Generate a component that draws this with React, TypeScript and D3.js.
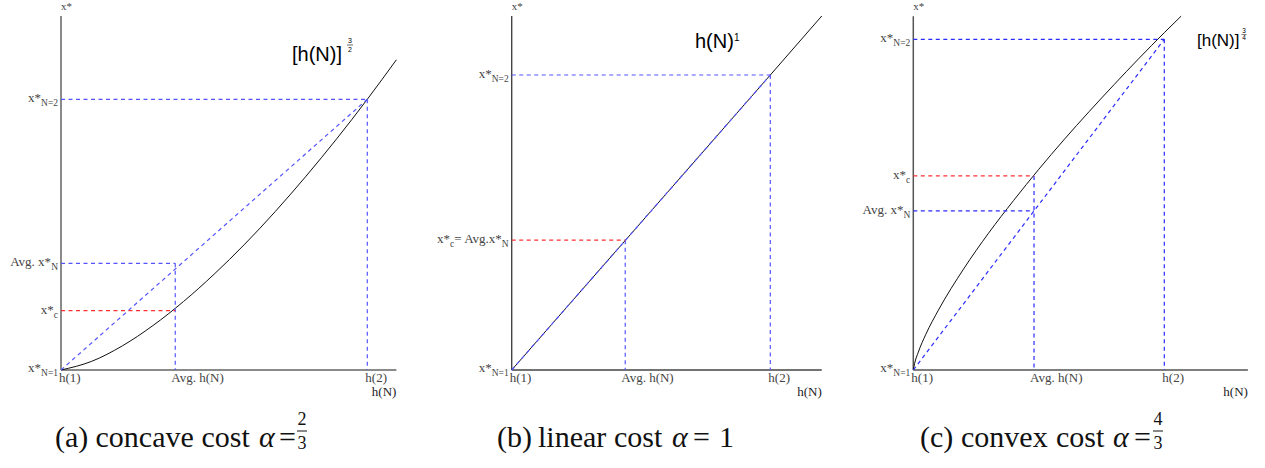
import React from "react";
import * as d3 from "d3";

// curve samples, x = h(N) (h(1)=0, h(2)=1), y = x* (x*N=1 = 0, x*N=2 = 1)
const concaveCurve: [number, number][] = [
  [0, 0], [0.1, 0.032], [0.2, 0.089], [0.3, 0.164], [0.4, 0.253], [0.5, 0.354],
  [0.6, 0.465], [0.7, 0.586], [0.8, 0.716], [0.9, 0.854], [1, 1], [1.095, 1.146],
];
const linearCurve: [number, number][] = [[0, 0], [0.5, 0.5], [1, 1], [1.199, 1.2]];
const convexCurve: [number, number][] = [
  [0, 0], [0.005, 0.019], [0.02, 0.054], [0.05, 0.108], [0.1, 0.181], [0.2, 0.305],
  [0.3, 0.414], [0.4, 0.513], [0.5, 0.607], [0.6, 0.696], [0.7, 0.781], [0.8, 0.863],
  [0.9, 0.943], [1, 1.02], [1.067, 1.07],
];

const avgH = [0.373, 0.439, 0.481];
const xStarC = [0.219, 0.44, 0.587];
const avgXStar = [0.394, 0.44, 0.481];
const xTickLabels = ["h(1)", "Avg. h(N)", "h(2)"];
const captionWords = [
  ["(a)", "concave", "cost"],
  ["(b)", "linear", "cost"],
  ["(c)", "convex", "cost"],
];
const alphaNum = ["2", "1", "4"];
const alphaDen = ["3", "", "3"];

const curves = [concaveCurve, linearCurve, convexCurve];

// layout of each panel (pixels)
const frames = [
  { x0: 61, xUnit: 306.3, xMax: 1.095, yUnit: 270.7, yMax: 1.308, axis: "#8a8a8a", aw: 2, blue: "#5555ff", wordX: [55, 95.5, 201.5], alphaX: 259, eqX: 279, capEnd: 302 },
  { x0: 511.7, xUnit: 258.6, xMax: 1.199, yUnit: 295, yMax: 1.2, axis: "#444", aw: 1.4, blue: "#5555ff", wordX: [497, 538, 614], alphaX: 672, eqX: 693, capEnd: 719 },
  { x0: 913.3, xUnit: 251, xMax: 1.333, yUnit: 330.7, yMax: 1.07, axis: "#555", aw: 1.5, blue: "#2b2bff", wordX: [920, 961, 1056], alphaX: 1113, eqX: 1134, capEnd: 1158 },
];
const Y0 = 370;
const serif = "Liberation Serif, Times New Roman, serif";
const sans = "Liberation Sans, Arial, sans-serif";
const labelColor = "#444";

function Sub({ x, y, main, sub, rest, restSub, anchor = "end" }: any) {
  return (
    <text x={x} y={y} fontFamily={serif} fontSize={13} fill={labelColor} textAnchor={anchor}>
      <tspan>{main}</tspan>
      <tspan dy={4} fontSize={9.5}>{sub}</tspan>
      {rest && <tspan dy={-4}>{rest}</tspan>}
      {restSub && <tspan dy={4} fontSize={9.5}>{restSub}</tspan>}
    </text>
  );
}

function Panel({ i }: { i: number }) {
  const f = frames[i];
  const x = d3.scaleLinear().domain([0, 1]).range([f.x0, f.x0 + f.xUnit]);
  const y = d3.scaleLinear().domain([0, 1]).range([Y0, Y0 - f.yUnit]);
  const line = d3.line<[number, number]>().x((d) => x(d[0])).y((d) => y(d[1])).curve(d3.curveMonotoneX);
  const dash = "4 3.5";
  const top = Math.max(xStarC[i], avgXStar[i]);
  const ha = avgH[i];
  return (
    <g>
      {/* axes */}
      <line x1={x(0)} y1={y(0)} x2={x(0)} y2={y(f.yMax)} stroke={f.axis} strokeWidth={f.aw} />
      <line x1={x(0)} y1={y(0)} x2={x(f.xMax)} y2={y(0)} stroke={f.axis} strokeWidth={f.aw} />
      {/* curve */}
      <path d={line(curves[i]) || ""} fill="none" stroke="#111" strokeWidth={1} />
      {/* guide lines */}
      <g fill="none" strokeDasharray={dash} strokeWidth={1.2}>
        <line x1={x(0)} y1={y(1)} x2={x(1)} y2={y(1)} stroke={f.blue} />
        <line x1={x(1)} y1={y(1)} x2={x(1)} y2={y(0)} stroke={f.blue} />
        <line x1={x(0)} y1={y(0)} x2={x(1)} y2={y(1)} stroke={f.blue} />
        {i !== 1 && <line x1={x(0)} y1={y(avgXStar[i])} x2={x(ha)} y2={y(avgXStar[i])} stroke={f.blue} />}
        <line x1={x(ha)} y1={y(top)} x2={x(ha)} y2={y(0)} stroke={f.blue} />
        <line x1={x(0)} y1={y(xStarC[i])} x2={x(ha)} y2={y(xStarC[i])} stroke="#ff3030" />
      </g>
      {/* y tick labels */}
      <Sub x={x(0) - 3} y={y(1) + 3} main="x*" sub="N=2" />
      <Sub x={x(0) - 3} y={y(0) + 2} main="x*" sub="N=1" />
      {i === 1 ? (
        <Sub x={x(0) - 3} y={y(xStarC[i]) + 3} main="x*" sub="c" rest="= Avg.x*" restSub="N" />
      ) : (
        <>
          <Sub x={x(0) - 3} y={y(avgXStar[i]) + 3} main="Avg. x*" sub="N" />
          <Sub x={x(0) - 3} y={y(xStarC[i]) + 3} main="x*" sub="c" />
        </>
      )}
      {/* x tick labels */}
      {[0, ha, 1].map((v, k) => (
        <text key={k} x={x(v) - (k === 1 ? 4 : 2)} y={382} fontFamily={serif} fontSize={13} fill={labelColor}>
          {xTickLabels[k]}
        </text>
      ))}
      {/* axis titles */}
      <text x={x(f.xMax)} y={396} textAnchor="end" fontFamily={serif} fontSize={13} fill="#222">h(N)</text>
      <text x={x(0)} y={10} fontFamily={serif} fontSize={11} fill="#444">x*</text>
      {/* caption */}
      {captionWords[i].map((w, k) => (
        <text key={k} x={f.wordX[k]} y={447} fontFamily={serif} fontSize={30} fill="#111">{w}</text>
      ))}
      <text x={f.alphaX} y={447} fontFamily={serif} fontSize={30} fontStyle="italic" fill="#111">α</text>
      <text x={f.eqX} y={447} fontFamily={serif} fontSize={30} fill="#111">=</text>
      {i === 1 && <text x={f.capEnd} y={447} fontFamily={serif} fontSize={30} fill="#111">1</text>}
      {alphaDen[i] && (
        <g fontFamily={serif} fontSize={18} fill="#111" textAnchor="middle">
          <text x={f.capEnd} y={425}>{alphaNum[i]}</text>
          <line x1={f.capEnd - 5} x2={f.capEnd + 5} y1={431} y2={431} stroke="#111" strokeWidth={1} />
          <text x={f.capEnd} y={449}>{alphaDen[i]}</text>
        </g>
      )}
    </g>
  );
}

export default function App() {
  return (
    <svg width={1265} height={468} style={{ position: "absolute", left: 0, top: 0, background: "#fff" }}>
      <Panel i={0} />
      <Panel i={1} />
      <Panel i={2} />
      {/* curve titles */}
      <g fontFamily={sans} fill="#000">
        <text x={292} y={61} fontSize={20}>[h(N)]</text>
        <g fontSize={7} textAnchor="middle">
          <text x={350} y={43}>3</text>
          <line x1={347} x2={353} y1={45} y2={45} stroke="#000" strokeWidth={0.6} />
          <text x={350} y={52}>2</text>
        </g>
        <text x={695} y={48} fontSize={20}>h(N)</text>
        <text x={734} y={41} fontSize={10}>1</text>
        <text x={1197} y={46} fontSize={17}>[h(N)]</text>
        <g fontSize={6.5} textAnchor="middle">
          <text x={1244} y={33}>3</text>
          <line x1={1241.5} x2={1246.5} y1={34.5} y2={34.5} stroke="#000" strokeWidth={0.5} />
          <text x={1244} y={40}>4</text>
        </g>
      </g>
    </svg>
  );
}
